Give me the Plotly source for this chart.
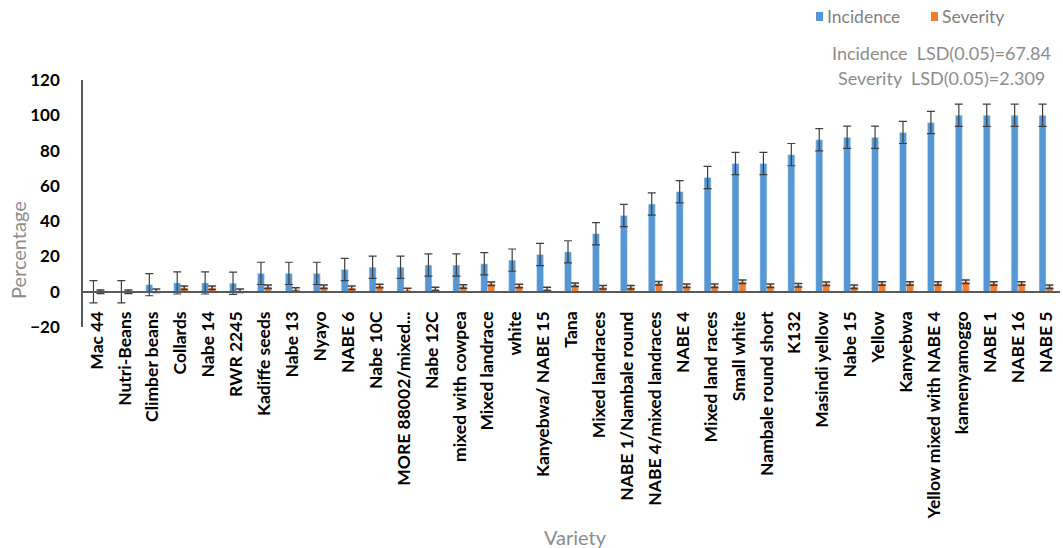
import plotly.graph_objects as go

varieties = [
    "Mac 44", "Nutri-Beans", "Climber beans", "Collards", "Nabe 14", "RWR 2245",
    "Kadiffe seeds", "Nabe 13", "Nyayo", "NABE 6", "Nabe 10C", "MORE 88002/mixed...",
    "Nabe 12C", "mixed with cowpea", "Mixed landrace", "white", "Kanyebwa/ NABE 15",
    "Tana", "Mixed landraces", "NABE 1/Nambale round", "NABE 4/mixed landraces",
    "NABE 4", "Mixed land races", "Small white", "Nambale round short", "K132",
    "Masindi yellow", "Nabe 15", "Yellow", "Kanyebwa", "Yellow mixed with NABE 4",
    "kamenyamoggo", "NABE 1", "NABE 16", "NABE 5",
]

incidence = [
    0, 0, 4, 5, 5, 4.8,
    10.4, 10.4, 10.4, 12.6, 13.9, 13.9,
    15.1, 15.1, 15.8, 17.9, 21.1,
    22.6, 32.9, 43.2, 49.7,
    56.7, 64.7, 72.7, 72.7, 77.7,
    86.1, 87.5, 87.5, 90.3, 95.9,
    100, 100, 100, 100,
]
incidence_err = [6.3] * len(varieties)

severity = [
    0, 0, 0.5, 2.3, 2.3, 0.5,
    2.8, 1.2, 2.8, 2.2, 3.3, 1.0,
    1.5, 3.0, 4.5, 3.3, 1.5,
    4.0, 2.5, 2.5, 4.8,
    3.4, 3.4, 5.6, 3.4, 3.7,
    4.5, 2.8, 4.7, 4.7, 4.7,
    5.6, 4.7, 4.7, 2.8,
]
severity_err = [1.0] * len(varieties)

y_ticks = [-20, 0, 20, 40, 60, 80, 100, 120]

BLUE = "#5597d4"
ORANGE = "#ed7d31"
ERR = "#3f3f3f"
GREY_TEXT = "#8c8c8c"
FONT = "Lato"

fig = go.Figure()
fig.add_trace(go.Bar(
    name="Incidence", x=varieties, y=incidence, marker_color=BLUE,
    error_y=dict(type="data", array=incidence_err, visible=True,
                 color=ERR, thickness=1.2, width=4),
))
fig.add_trace(go.Bar(
    name="Severity", x=varieties, y=severity, marker_color=ORANGE,
    error_y=dict(type="data", array=severity_err, visible=True,
                 color=ERR, thickness=1.5, width=4),
))

W, H = 1063, 548
ML, MR, MT, MB = 83, 3, 80, 221
pw, ph = W - ML - MR, H - MT - MB


def px_x(x):
    return (x - ML) / pw


def px_y(y):
    return (H - MB - y) / ph


fig.update_layout(
    width=W, height=H,
    margin=dict(l=ML, r=MR, t=MT, b=MB, pad=0),
    paper_bgcolor="white", plot_bgcolor="white",
    barmode="group", bargap=0.5, bargroupgap=0.0,
    showlegend=False,
    font=dict(family=FONT, color="black"),
    xaxis=dict(
        type="category", anchor="free", position=20 / 140,
        showline=True, linecolor="#595959", linewidth=1.5,
        showgrid=False, ticks="", tickangle=-90,
        tickfont=dict(family=FONT, size=17.5, color="black", weight="bold"),
        ticklabelstandoff=12,
    ),
    yaxis=dict(
        range=[-20, 120], tickvals=y_ticks,
        showline=True, linecolor="#595959", linewidth=1.5,
        showgrid=False, zeroline=False, ticks="",
        tickfont=dict(family=FONT, size=17, color="black", weight="bold"),
        ticklabelstandoff=18,
    ),
)

# Legend swatches and labels
for sx, col, label in [(816, BLUE, "Incidence"), (931, ORANGE, "Severity")]:
    fig.add_shape(type="rect", xref="paper", yref="paper",
                  x0=px_x(sx), x1=px_x(sx + 7), y0=px_y(21), y1=px_y(12),
                  fillcolor=col, line_width=0)
    fig.add_annotation(text=label, xref="paper", yref="paper",
                       x=px_x(sx + 9), y=px_y(17), xanchor="left", yanchor="middle",
                       showarrow=False, font=dict(family=FONT, size=17.5, color="#7f7f7f"))

fig.add_annotation(text="Incidence  LSD(0.05)=67.84", xref="paper", yref="paper",
                   x=px_x(941), y=px_y(53), xanchor="center", yanchor="middle",
                   showarrow=False, font=dict(family=FONT, size=18, color=GREY_TEXT))
fig.add_annotation(text="Severity  LSD(0.05)=2.309", xref="paper", yref="paper",
                   x=px_x(941), y=px_y(78), xanchor="center", yanchor="middle",
                   showarrow=False, font=dict(family=FONT, size=18, color=GREY_TEXT))

# Axis titles
fig.add_annotation(text="Percentage", xref="paper", yref="paper",
                   x=px_x(18), y=px_y(250), textangle=-90,
                   xanchor="center", yanchor="middle", showarrow=False,
                   font=dict(family=FONT, size=20, color=GREY_TEXT))
fig.add_annotation(text="Variety", xref="paper", yref="paper",
                   x=px_x(575), y=px_y(537), xanchor="center", yanchor="middle",
                   showarrow=False, font=dict(family=FONT, size=20, color=GREY_TEXT))

fig.write_html("out.html")
